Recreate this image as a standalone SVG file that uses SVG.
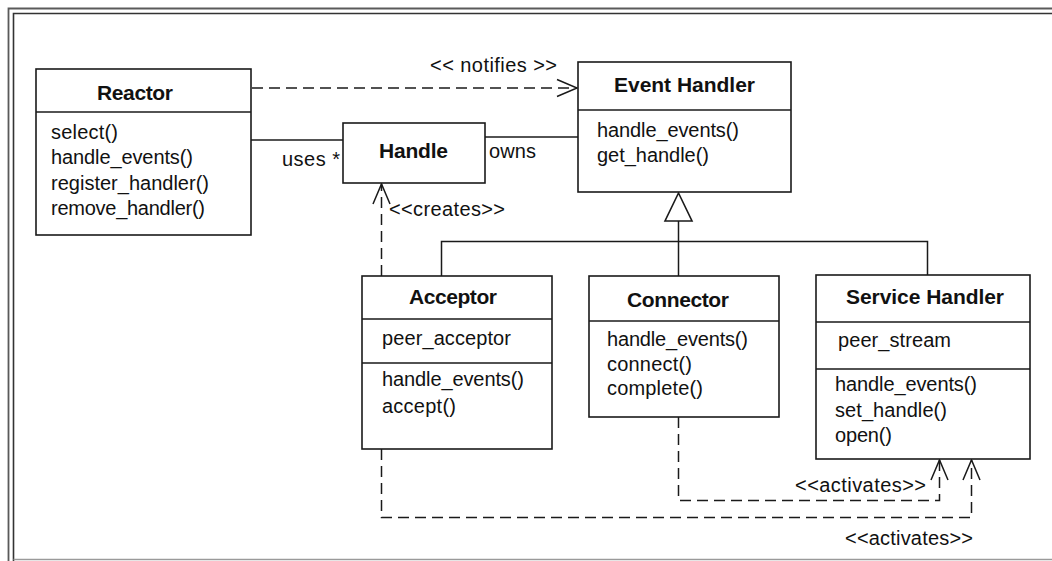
<svg xmlns="http://www.w3.org/2000/svg" width="1052" height="561" viewBox="0 0 1052 561">
  <defs>
    <style>
      .box { fill: #fff; stroke: #1a1a1a; stroke-width: 1.6; }
      .sep { stroke: #1a1a1a; stroke-width: 1.5; fill: none; }
      .line { stroke: #1a1a1a; stroke-width: 1.5; fill: none; }
      .dash { stroke: #1a1a1a; stroke-width: 1.5; fill: none; stroke-dasharray: 11 6; }
      .title { font-family: "Liberation Sans", Arial, sans-serif; font-weight: bold; font-size: 21px; fill: #111; }
      .txt { font-family: "Liberation Sans", Arial, sans-serif; font-size: 20px; fill: #111; }
    </style>
    <marker id="open" viewBox="-22 -10 24 20" refX="0" refY="0" markerWidth="24" markerHeight="20" markerUnits="userSpaceOnUse" orient="auto">
      <path d="M-20,-8.5 L0,0 L-20,8.5" fill="none" stroke="#1a1a1a" stroke-width="1.5"/>
    </marker>
  </defs>

  <rect width="1052" height="561" fill="#fff"/>

  <!-- frame -->
  <g id="frame" fill="none">
    <path d="M8.5,561 V8.5 H1052" stroke="#5a5a5a" stroke-width="1.8"/>
    <path d="M13.5,561 V13.5 H1052" stroke="#333" stroke-width="1.6"/>
    <path d="M13.5,559.5 H1052" stroke="#9a9a9a" stroke-width="1.5"/>
  </g>

  <!-- connectors -->
  <g id="connectors">
    <!-- Reactor notifies Event Handler -->
    <path class="dash" d="M252,88 H577" marker-end="url(#open)"/>
    <!-- Reactor uses Handle -->
    <path class="line" d="M251,140 H343"/>
    <!-- Event Handler owns Handle -->
    <path class="line" d="M485,137 H578"/>
    <!-- Acceptor creates Handle -->
    <path class="dash" d="M381.5,276 V184" marker-end="url(#open)"/>
    <!-- generalization -->
    <path class="line" d="M678.5,277 V221"/>
    <path class="line" d="M441.5,276 V241.5 H927.5 V275"/>
    <path d="M678.5,193 L665,221 L692,221 Z" fill="#fff" stroke="#1a1a1a" stroke-width="1.6"/>
    <!-- Connector activates Service Handler -->
    <path class="dash" d="M678.5,417 V500.5 H939.5 V460" marker-end="url(#open)"/>
    <!-- Acceptor activates Service Handler -->
    <path class="dash" d="M381.5,449 V517.5 H971.5 V460" marker-end="url(#open)"/>
    <!-- labels -->
    <text class="txt" x="430" y="72" textLength="127">&lt;&lt; notifies &gt;&gt;</text>
    <text class="txt" x="282" y="166" textLength="58">uses *</text>
    <text class="txt" x="489" y="158" textLength="47">owns</text>
    <text class="txt" x="389" y="216" textLength="116">&lt;&lt;creates&gt;&gt;</text>
    <text class="txt" x="795" y="492" textLength="131">&lt;&lt;activates&gt;&gt;</text>
    <text class="txt" x="845" y="545" textLength="128">&lt;&lt;activates&gt;&gt;</text>
  </g>

  <!-- Reactor -->
  <g id="reactor">
    <rect class="box" x="36" y="69" width="215" height="166"/>
    <path class="sep" d="M36,112 H251"/>
    <text class="title" x="97" y="100" textLength="76">Reactor</text>
    <text class="txt" x="51" y="139" textLength="67">select()</text>
    <text class="txt" x="51" y="164" textLength="142">handle_events()</text>
    <text class="txt" x="51" y="190" textLength="158">register_handler()</text>
    <text class="txt" x="51" y="215" textLength="154">remove_handler()</text>
  </g>

  <!-- Handle -->
  <g id="handle">
    <rect class="box" x="343" y="123" width="142" height="60"/>
    <text class="title" x="379" y="158" textLength="69">Handle</text>
  </g>

  <!-- Event Handler -->
  <g id="event-handler">
    <rect class="box" x="578" y="62" width="213" height="130"/>
    <path class="sep" d="M578,110 H791"/>
    <text class="title" x="614" y="92" textLength="141">Event Handler</text>
    <text class="txt" x="597" y="137" textLength="142">handle_events()</text>
    <text class="txt" x="597" y="162" textLength="112">get_handle()</text>
  </g>

  <!-- Acceptor -->
  <g id="acceptor">
    <rect class="box" x="362" y="276" width="190" height="173"/>
    <path class="sep" d="M362,319 H552 M362,363 H552"/>
    <text class="title" x="409" y="304" textLength="88">Acceptor</text>
    <text class="txt" x="382" y="345" textLength="129">peer_acceptor</text>
    <text class="txt" x="382" y="386" textLength="142">handle_events()</text>
    <text class="txt" x="382" y="413" textLength="74">accept()</text>
  </g>

  <!-- Connector -->
  <g id="connector">
    <rect class="box" x="589" y="276" width="190" height="141"/>
    <path class="sep" d="M589,321 H779"/>
    <text class="title" x="627" y="307" textLength="102">Connector</text>
    <text class="txt" x="607" y="346" textLength="141">handle_events()</text>
    <text class="txt" x="607" y="371" textLength="85">connect()</text>
    <text class="txt" x="607" y="395" textLength="96">complete()</text>
  </g>

  <!-- Service Handler -->
  <g id="service-handler">
    <rect class="box" x="816" y="275" width="214" height="184"/>
    <path class="sep" d="M816,322 H1030 M816,369 H1030"/>
    <text class="title" x="846" y="304" textLength="158">Service Handler</text>
    <text class="txt" x="838" y="347" textLength="113">peer_stream</text>
    <text class="txt" x="835" y="391" textLength="142">handle_events()</text>
    <text class="txt" x="835" y="417" textLength="112">set_handle()</text>
    <text class="txt" x="835" y="442" textLength="57">open()</text>
  </g>
</svg>
